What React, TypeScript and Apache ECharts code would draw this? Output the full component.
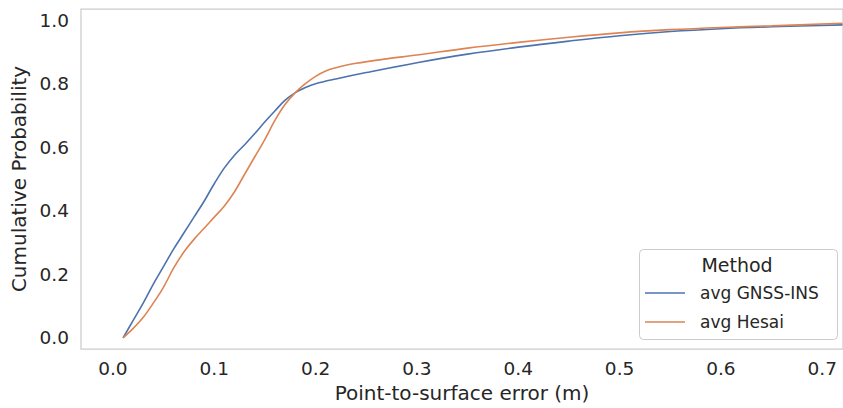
import React, { useEffect, useRef } from "react";
import * as echarts from "echarts";

const gnssX = [0.01, 0.02, 0.03, 0.04, 0.05, 0.06, 0.07, 0.08, 0.09, 0.1, 0.11, 0.12, 0.13, 0.14, 0.15, 0.16, 0.17, 0.18, 0.19, 0.2, 0.22, 0.25, 0.3, 0.35, 0.4, 0.45, 0.5, 0.55, 0.6, 0.65, 0.72];
const gnssY = [0, 0.055, 0.11, 0.17, 0.225, 0.28, 0.33, 0.38, 0.43, 0.485, 0.535, 0.575, 0.608, 0.643, 0.68, 0.715, 0.748, 0.772, 0.788, 0.8, 0.815, 0.835, 0.866, 0.893, 0.915, 0.934, 0.951, 0.964, 0.973, 0.979, 0.985];
const hesaiX = [0.01, 0.02, 0.03, 0.04, 0.05, 0.06, 0.07, 0.08, 0.09, 0.1, 0.11, 0.12, 0.13, 0.14, 0.15, 0.16, 0.17, 0.18, 0.19, 0.2, 0.21, 0.22, 0.24, 0.27, 0.3, 0.35, 0.4, 0.45, 0.5, 0.55, 0.6, 0.65, 0.72];
const hesaiY = [0, 0.03, 0.065, 0.11, 0.16, 0.22, 0.27, 0.31, 0.345, 0.38, 0.415, 0.46, 0.515, 0.57, 0.625, 0.685, 0.735, 0.772, 0.8, 0.823, 0.84, 0.85, 0.864, 0.878, 0.89, 0.912, 0.93, 0.946, 0.96, 0.97, 0.977, 0.982, 0.99];
const xTicks = [0, 0.1, 0.2, 0.3, 0.4, 0.5, 0.6, 0.7];
const yTicks = [0, 0.2, 0.4, 0.6, 0.8, 1.0];
const seriesNames = ["avg GNSS-INS", "avg Hesai"];
const colors = ["#4c72b0", "#dd8452"];

const FONT = "DejaVu Sans";
const TXT = "#262626";

export default function App() {
  const ref = useRef<HTMLDivElement>(null);
  useEffect(() => {
    if (!ref.current) return;
    const chart = echarts.init(ref.current, undefined, { renderer: "svg" });
    const mk = (xs: number[], ys: number[]) => xs.map((x, i) => [x, ys[i]]);
    const legendLeft = 639, legendTop = 249;
    chart.setOption({
      animation: false,
      grid: { left: 81, top: 9, right: -2, bottom: 59, show: true, borderColor: "#cccccc", borderWidth: 1.25, backgroundColor: "#fff" },
      xAxis: {
        type: "value", min: -0.0315, max: 0.7205,
        name: "Point-to-surface error (m)", nameLocation: "middle", nameGap: 32,
        nameTextStyle: { fontFamily: FONT, fontSize: 20, color: TXT },
        axisLine: { show: false }, axisTick: { show: false }, splitLine: { show: false },
        axisLabel: { customValues: xTicks, fontFamily: FONT, fontSize: 18.5, color: TXT, margin: 10, formatter: (v: number) => v.toFixed(1) },
      },
      yAxis: {
        type: "value", min: -0.035, max: 1.035,
        name: "Cumulative Probability", nameLocation: "middle", nameGap: 47,
        nameTextStyle: { fontFamily: FONT, fontSize: 20, color: TXT },
        axisLine: { show: false }, axisTick: { show: false }, splitLine: { show: false },
        axisLabel: { customValues: yTicks, fontFamily: FONT, fontSize: 18.5, color: TXT, margin: 12, formatter: (v: number) => v.toFixed(1) },
      },
      series: [
        { name: seriesNames[0], type: "line", data: mk(gnssX, gnssY), smooth: 0.35, symbol: "none", lineStyle: { color: colors[0], width: 1.6 }, z: 3 },
        { name: seriesNames[1], type: "line", data: mk(hesaiX, hesaiY), smooth: 0.35, symbol: "none", lineStyle: { color: colors[1], width: 1.6 }, z: 3 },
      ],
      graphic: [
        { type: "rect", left: legendLeft, top: legendTop, shape: { width: 198, height: 90, r: 4 }, style: { fill: "rgba(255,255,255,0.85)", stroke: "#cccccc", lineWidth: 1 }, z: 10 },
        { type: "text", x: 737, y: 265, style: { text: "Method", fontFamily: FONT, fontSize: 19, fill: TXT, align: "center", verticalAlign: "middle" }, z: 11 },
        { type: "line", shape: { x1: 645, y1: 293, x2: 685, y2: 293 }, style: { stroke: colors[0], lineWidth: 1.6 }, z: 11 },
        { type: "text", x: 700, y: 293, style: { text: seriesNames[0], fontFamily: FONT, fontSize: 17, fill: TXT, align: "left", verticalAlign: "middle" }, z: 11 },
        { type: "line", shape: { x1: 645, y1: 322, x2: 685, y2: 322 }, style: { stroke: colors[1], lineWidth: 1.6 }, z: 11 },
        { type: "text", x: 700, y: 322, style: { text: seriesNames[1], fontFamily: FONT, fontSize: 17, fill: TXT, align: "left", verticalAlign: "middle" }, z: 11 },
      ],
    });
    return () => chart.dispose();
  }, []);
  return <div ref={ref} style={{ position: "fixed", left: 0, top: 0, width: 843, height: 408, background: "#fff" }} />;
}
